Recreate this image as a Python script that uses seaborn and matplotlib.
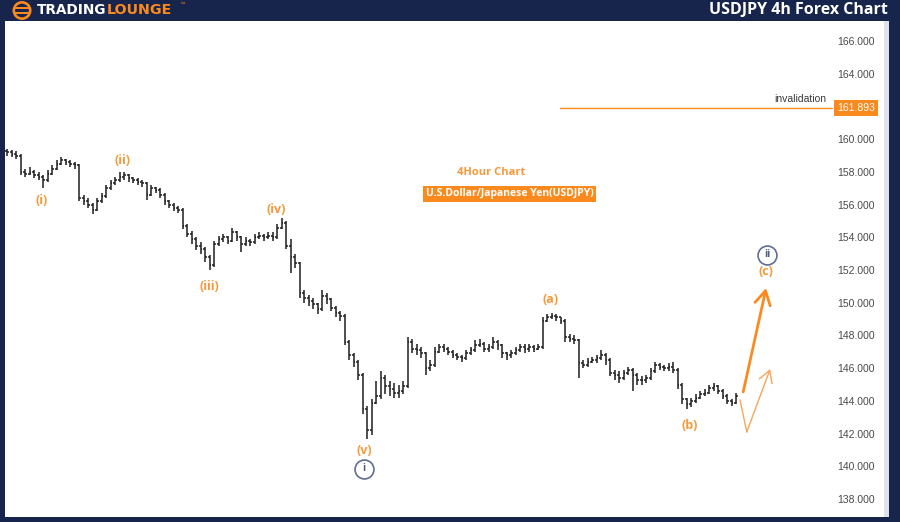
import matplotlib
matplotlib.use("Agg")
import matplotlib.pyplot as plt
from matplotlib.patches import Rectangle, Circle
from matplotlib.transforms import IdentityTransform
import numpy as np
import pandas as pd
import seaborn as sns

# ---- USDJPY 4h bars -------------------------------------------------------
first_open = 159.3
close = [
    159.2, 159.1, 159.0, 158.0, 157.9, 158.0, 157.8, 157.7, 157.5, 157.9,
    158.2, 158.5, 158.7, 158.6, 158.5, 158.4, 156.4, 156.2, 156.0, 155.7,
    156.2, 156.5, 157.0, 157.3, 157.5, 157.7, 157.8, 157.6, 157.5, 157.4,
    157.3, 156.6, 157.0, 156.9, 156.6, 156.2, 156.0, 155.8, 155.7, 154.7,
    154.2, 153.9, 153.5, 153.3, 152.8, 152.3, 153.6, 153.9, 154.0, 153.8,
    154.3, 154.0, 153.6, 153.8, 153.7, 154.0, 154.1, 154.0, 154.1, 154.0,
    154.6, 154.9, 153.5, 152.8, 152.4, 150.6, 150.3, 150.1, 149.9, 149.6,
    150.4, 150.2, 149.7, 149.4, 149.2, 147.6, 146.8, 146.4, 145.6, 143.5,
    142.2, 143.9, 144.3, 145.4, 144.9, 144.7, 144.5, 144.6, 144.9, 147.6,
    147.2, 147.1, 146.9, 146.0, 146.2, 147.0, 147.3, 147.2, 147.0, 146.8,
    146.7, 146.6, 146.9, 147.1, 147.4, 147.5, 147.2, 147.3, 147.6, 147.4,
    146.9, 146.8, 146.9, 147.1, 147.3, 147.2, 147.3, 147.2, 147.3, 148.9,
    149.1, 149.2, 149.1, 148.9, 147.9, 147.8, 147.7, 146.3, 146.2, 146.4,
    146.5, 146.6, 146.8, 146.5, 145.7, 145.6, 145.4, 145.7, 145.9, 145.6,
    145.3, 145.3, 145.4, 145.8, 146.2, 146.1, 146.0, 146.1, 145.9, 145.0,
    144.1, 143.8, 144.0, 144.2, 144.4, 144.5, 144.8, 144.9, 144.6, 144.3,
    144.0, 143.9, 144.3,
]
high = [
    159.4, 159.35, 159.3, 159.1, 158.2, 158.3, 158.1, 158.0, 157.8, 158.1,
    158.4, 158.7, 158.9, 158.8, 158.7, 158.6, 158.5, 156.6, 156.4, 156.1,
    156.4, 156.7, 157.2, 157.5, 157.7, 158.0, 158.0, 157.9, 157.7, 157.6,
    157.5, 157.4, 157.2, 157.1, 157.0, 156.7, 156.3, 156.1, 155.9, 155.8,
    154.8, 154.4, 154.0, 153.7, 153.4, 152.9, 153.8, 154.1, 154.2, 154.1,
    154.6, 154.4, 154.1, 154.0, 153.9, 154.2, 154.3, 154.2, 154.3, 154.3,
    154.8, 155.2, 155.0, 153.9, 153.0, 152.5, 150.8, 150.5, 150.3, 150.0,
    150.8, 150.6, 150.3, 149.8, 149.5, 149.3, 147.7, 146.9, 146.5, 145.7,
    143.7, 144.1, 145.2, 145.8, 145.6, 145.2, 145.1, 145.0, 145.2, 147.9,
    147.8, 147.5, 147.3, 147.0, 146.5, 147.3, 147.5, 147.5, 147.3, 147.1,
    146.9, 146.8, 147.1, 147.3, 147.7, 147.8, 147.6, 147.5, 147.9, 147.7,
    147.5, 147.0, 147.1, 147.3, 147.5, 147.5, 147.5, 147.4, 147.5, 149.1,
    149.3, 149.4, 149.3, 149.1, 149.0, 148.1, 148.0, 147.8, 146.5, 146.6,
    146.7, 146.8, 147.1, 146.9, 146.6, 145.9, 145.8, 145.9, 146.1, 146.0,
    145.7, 145.5, 145.6, 146.0, 146.4, 146.3, 146.2, 146.3, 146.4, 146.0,
    145.1, 144.2, 144.2, 144.4, 144.6, 144.7, 145.0, 145.1, 145.0, 144.7,
    144.4, 144.1, 144.5,
]
low = [
    159.0, 158.9, 158.8, 157.8, 157.7, 157.8, 157.6, 157.5, 157.0, 157.4,
    157.8, 158.1, 158.4, 158.4, 158.3, 158.2, 156.2, 156.0, 155.8, 155.4,
    155.6, 156.1, 156.4, 156.9, 157.2, 157.4, 157.5, 157.4, 157.3, 157.2,
    157.1, 156.3, 156.5, 156.7, 156.4, 156.0, 155.8, 155.6, 155.5, 154.5,
    154.0, 153.6, 153.2, 153.0, 152.5, 152.0, 152.2, 153.5, 153.7, 153.6,
    153.7, 153.8, 153.1, 153.5, 153.5, 153.6, 153.9, 153.8, 153.9, 153.8,
    153.9, 154.5, 153.3, 151.8, 152.1, 150.3, 150.0, 149.8, 149.6, 149.3,
    149.5, 149.9, 149.5, 149.1, 148.9, 147.4, 146.5, 146.1, 145.3, 143.2,
    141.7, 141.9, 143.8, 144.1, 144.4, 144.3, 144.2, 144.2, 144.4, 144.8,
    146.9, 146.8, 146.6, 145.6, 145.8, 146.1, 146.9, 147.0, 146.8, 146.6,
    146.5, 146.4, 146.5, 146.8, 147.0, 147.3, 147.0, 147.0, 147.2, 147.1,
    146.6, 146.5, 146.6, 146.8, 147.0, 146.9, 147.0, 147.0, 147.1, 147.2,
    148.8, 149.0, 148.9, 148.7, 147.6, 147.6, 147.5, 145.4, 146.0, 146.1,
    146.3, 146.3, 146.5, 146.2, 145.5, 145.3, 145.1, 145.3, 145.6, 144.6,
    145.0, 145.0, 145.1, 145.3, 145.7, 145.9, 145.8, 145.8, 145.7, 144.7,
    143.8, 143.5, 143.6, 143.9, 144.1, 144.3, 144.4, 144.6, 144.4, 144.1,
    143.8, 143.7, 143.8,
]

y_ticks = [138, 140, 142, 144, 146, 148, 150, 152, 154, 156, 158, 160, 162, 164, 166]
invalidation = 161.893
invalidation_start = 122.9
invalidation_end = 183.3

# Elliott wave labels (bar index, price)
wave_labels = ["(i)", "(ii)", "(iii)", "(iv)", "(v)", "(a)", "(b)", "(c)"]
wave_x = [7.6, 25.6, 44.9, 59.8, 79.3, 120.7, 151.8, 168.7]
wave_y = [156.28, 158.67, 151.02, 155.73, 140.94, 150.17, 142.47, 151.94]
degree_labels = ["i", "ii"]
degree_x = [79.3, 168.9]
degree_y = [139.84, 152.92]

# Projected paths
proj_main_x = [163.6, 168.7]
proj_main_y = [144.55, 150.9]
proj_alt_x = [162.9, 164.4, 169.6]
proj_alt_y = [144.06, 142.1, 145.95]

NAVY = "#17244b"
ORANGE = "#fb8a1e"
LABEL_ORANGE = "#f7993a"
BAR = "#1e1e1e"
CIRCLE = "#5f6f90"

sns.set_theme(style="white")
plt.rcParams["font.family"] = ["Open Sans", "DejaVu Sans"]

W, H = 900, 522
fig = plt.figure(figsize=(W / 100, H / 100), dpi=100, facecolor=NAVY)

left, right, top, bottom = 5, 884, 21, 517
ax = fig.add_axes([left / W, (H - bottom) / H, (right - left) / W, (bottom - top) / H])
ax.set_facecolor("white")
for s in ax.spines.values():
    s.set_visible(False)

# separator strip at the right edge of the chart pane
fig.patches.append(Rectangle((884 / W, (H - bottom) / H), 5 / W, (bottom - top) / H,
                             transform=fig.transFigure, facecolor="#dfe2ea",
                             edgecolor="none", zorder=0))

df = pd.DataFrame({"close": close, "high": high, "low": low})
df["open"] = [first_open] + close[:-1]
df["idx"] = np.arange(len(df))

tick = 0.4
ax.vlines(df["idx"], df["low"], df["high"], color=BAR, lw=1.1, zorder=3)
ax.hlines(df["open"], df["idx"] - tick, df["idx"], color=BAR, lw=1.1, zorder=3)
ax.hlines(df["close"], df["idx"], df["idx"] + tick, color=BAR, lw=1.1, zorder=3)

ax.set_xlim((left - 7) / 4.5, (right - 7) / 4.5)
ax.set_ylim(166 - (bottom - 41) / 16.36, 166 + (41 - top) / 16.36)

# price axis inside the pane
ax.yaxis.tick_right()
ax.set_yticks(y_ticks)
ax.set_yticklabels([f"{v:.3f}" for v in y_ticks], fontfamily="Liberation Sans",
                   fontsize=7.5, color="#4a4a4a")
ax.tick_params(axis="y", length=0, pad=-6.5)
for lbl in ax.get_yticklabels():
    lbl.set_horizontalalignment("right")
ax.set_xticks([])
ax.grid(False)

# invalidation level
inv = pd.DataFrame({"x": [invalidation_start, invalidation_end],
                    "y": [invalidation, invalidation]})
sns.lineplot(data=inv, x="x", y="y", ax=ax, color=ORANGE, lw=1.0, zorder=2)
ax.set_xlabel("")
ax.set_ylabel("")
ax.text(invalidation_end - 1.2, invalidation + 0.25, "invalidation", ha="right", va="bottom",
        fontsize=7.5, color="#3a3a3a", fontfamily="Liberation Sans")
ax.text((invalidation_end + 0.2 + (880 - 7) / 4.5) / 2, invalidation, f"{invalidation:.3f}",
        ha="center", va="center", fontsize=7.5, color="white", fontfamily="Liberation Sans",
        bbox=dict(boxstyle="square,pad=0.3", fc=ORANGE, ec="none"))

# chart captions
ax.text(107.6, 157.99, "4Hour Chart", ha="center", va="center", fontsize=8,
        fontweight="bold", color=LABEL_ORANGE)
ax.text(111.7, 156.65, "U.S.Dollar/Japanese Yen(USDJPY)", ha="center", va="center",
        fontsize=7.5, fontweight="bold", color="white",
        bbox=dict(boxstyle="square,pad=0.22", fc=ORANGE, ec="none"))

# wave labels
for lbl, x, y in zip(wave_labels, wave_x, wave_y):
    ax.text(x, y, lbl, ha="center", va="center", fontsize=9, fontweight="bold",
            color=LABEL_ORANGE, zorder=5)
ax.scatter(degree_x, degree_y, s=185, facecolors="white", edgecolors=CIRCLE,
           linewidths=1.2, zorder=5)
for lbl, x, y in zip(degree_labels, degree_x, degree_y):
    ax.text(x, y, lbl, ha="center", va="center", fontsize=7.5, fontweight="bold",
            color="#4f5f80", zorder=6)

# projected paths
ax.annotate("", xy=(proj_main_x[1], proj_main_y[1]), xytext=(proj_main_x[0], proj_main_y[0]),
            arrowprops=dict(arrowstyle="->,head_length=0.7,head_width=0.4", color=ORANGE,
                            lw=2.0, mutation_scale=14, shrinkA=0, shrinkB=0), zorder=4)
ax.plot(proj_alt_x[:2], proj_alt_y[:2], color="#fca35a", lw=1.0, zorder=4)
ax.annotate("", xy=(proj_alt_x[2], proj_alt_y[2]), xytext=(proj_alt_x[1], proj_alt_y[1]),
            arrowprops=dict(arrowstyle="->,head_length=0.6,head_width=0.35", color="#fca35a",
                            lw=1.0, mutation_scale=14, shrinkA=0, shrinkB=0), zorder=4)

# header band (logo drawn in pixel units so the ring stays round)
def fx(px):
    return px / W

def fy(py):
    return 1 - py / H

pix = IdentityTransform()
cx, cy = 22, H - 10.5
fig.patches.append(Circle((cx, cy), 9.5, transform=pix, facecolor=ORANGE, edgecolor="none"))
fig.patches.append(Circle((cx, cy), 6.8, transform=pix, facecolor=NAVY, edgecolor="none"))
for dy in (-3.2, 1.6):
    fig.patches.append(Rectangle((cx - 8.5, cy + dy), 17, 2.0, transform=pix,
                                 facecolor=ORANGE, edgecolor="none"))
fig.text(fx(37), fy(10.5), "TRADING", ha="left", va="center", fontsize=9.8,
         fontweight="bold", color="white", fontfamily="DejaVu Sans")
fig.text(fx(107), fy(10.5), "LOUNGE", ha="left", va="center", fontsize=10.3,
         fontweight="bold", color=ORANGE, fontfamily="DejaVu Sans")
fig.text(fx(181), fy(5), "™", ha="left", va="center", fontsize=4, color=ORANGE)
fig.text(fx(888), fy(10), "USDJPY 4h Forex Chart", ha="right", va="center",
         fontsize=11.5, fontweight="bold", color="white")

fig.savefig("out.png", dpi=100, facecolor=NAVY)
